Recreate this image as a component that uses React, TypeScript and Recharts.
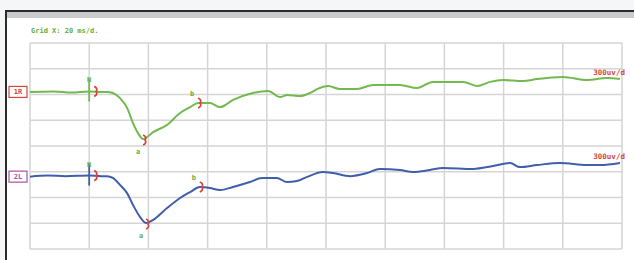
// NCS-style trace: two recordings (1R / 2L) on a 20 ms/d by 300 uV/d grid
import { LineChart, Line, XAxis, YAxis, CartesianGrid, ReferenceDot } from 'recharts';

const timeTicks = [0, 20, 40, 60, 80, 100, 120, 140, 160, 180, 200];
const divTicks = [0, 1, 2, 3, 4, 5, 6, 7, 8];

// t in ms, v in grid divisions (300 uV/d), counted from the bottom line
const trace1R = [
  { t: 0, v: 6.1 }, { t: 8, v: 6.12 }, { t: 14, v: 6.08 }, { t: 20, v: 6.12 },
  { t: 24, v: 6.1 }, { t: 26, v: 6.1 }, { t: 28.0, v: 6.06 }, { t: 30.4, v: 5.86 },
  { t: 32.8, v: 5.48 }, { t: 34.8, v: 4.89 }, { t: 36.5, v: 4.5 }, { t: 38.2, v: 4.27 },
  { t: 41.6, v: 4.54 }, { t: 46.3, v: 4.82 },
  { t: 50.7, v: 5.28 }, { t: 54.1, v: 5.51 }, { t: 56.8, v: 5.67 }, { t: 60.8, v: 5.67 },
  { t: 64.2, v: 5.51 }, { t: 68.6, v: 5.79 }, { t: 75.3, v: 6.06 }, { t: 80.4, v: 6.14 },
  { t: 84.5, v: 5.9 }, { t: 86.8, v: 5.98 }, { t: 91.2, v: 5.94 }, { t: 94.6, v: 6.06 },
  { t: 97.0, v: 6.21 }, { t: 100.7, v: 6.33 }, { t: 104.7, v: 6.21 }, { t: 110.5, v: 6.21 },
  { t: 115.9, v: 6.37 }, { t: 125.0, v: 6.37 }, { t: 130.7, v: 6.25 }, { t: 136.1, v: 6.49 },
  { t: 140.9, v: 6.49 }, { t: 146.3, v: 6.49 }, { t: 151.0, v: 6.33 }, { t: 155.4, v: 6.49 },
  { t: 159.8, v: 6.56 }, { t: 166.6, v: 6.52 }, { t: 171.3, v: 6.6 }, { t: 180.1, v: 6.68 },
  { t: 188.2, v: 6.56 }, { t: 194.9, v: 6.64 }, { t: 199.3, v: 6.6 },
];

const trace2L = [
  { t: 0, v: 2.81 }, { t: 6, v: 2.85 }, { t: 12, v: 2.83 }, { t: 20, v: 2.85 },
  { t: 24, v: 2.83 }, { t: 26, v: 2.83 }, { t: 28.0, v: 2.76 }, { t: 30.4, v: 2.49 },
  { t: 32.8, v: 2.17 }, { t: 34.8, v: 1.71 }, { t: 37.2, v: 1.24 }, { t: 39.2, v: 1.01 },
  { t: 41.6, v: 1.13 }, { t: 46.3, v: 1.59 },
  { t: 50.7, v: 1.98 }, { t: 54.1, v: 2.21 }, { t: 57.4, v: 2.41 }, { t: 60.8, v: 2.37 },
  { t: 64.2, v: 2.29 }, { t: 68.6, v: 2.41 }, { t: 74.3, v: 2.6 }, { t: 78.4, v: 2.76 },
  { t: 83.4, v: 2.76 }, { t: 86.8, v: 2.6 }, { t: 90.2, v: 2.64 }, { t: 93.6, v: 2.8 },
  { t: 99.0, v: 2.99 }, { t: 102.4, v: 2.95 }, { t: 108.1, v: 2.83 }, { t: 113.9, v: 2.95 },
  { t: 118.2, v: 3.11 }, { t: 125.0, v: 3.07 }, { t: 129.4, v: 2.99 }, { t: 135.1, v: 3.07 },
  { t: 139.5, v: 3.15 }, { t: 149.7, v: 3.11 }, { t: 156.4, v: 3.22 }, { t: 162.2, v: 3.34 },
  { t: 165.5, v: 3.18 }, { t: 171.3, v: 3.26 }, { t: 179.1, v: 3.34 }, { t: 188.2, v: 3.26 },
  { t: 192.6, v: 3.26 }, { t: 199.3, v: 3.34 },
];

const markerLabels = ['N', 'a', 'b'];
const markers1R = [20, 38.2, 56.8];
const markers2L = [20, 39.2, 57.4];

const GREEN = '#72b94f';
const BLUE = '#3f5eab';
const RED = '#d8453a';
const LABEL_GREEN = '#62b043';
const mono = '"DejaVu Sans Mono", monospace';

function nearest(data: { t: number; v: number }[], t: number) {
  return data.reduce((best, p) => (Math.abs(p.t - t) < Math.abs(best.t - t) ? p : best), data[0]);
}

// ticks are generated (so the grid gets its lines) but nothing is drawn
const noTick = () => <g />;

function Bracket({ x, y }: { x: number; y: number }) {
  return (
    <path
      d={`M${x - 1},${y - 5} Q${x + 3},${y - 3} ${x + 1},${y} Q${x + 3},${y + 3} ${x - 1},${y + 5}`}
      fill="none"
      stroke={RED}
      strokeWidth={1.8}
    />
  );
}

function markerShape(label: string, color: string) {
  return (props: any) => {
    const { cx, cy } = props;
    if (label === 'N') {
      return (
        <g>
          <line x1={cx} x2={cx} y1={cy - 12} y2={cy + 10} stroke={color} strokeWidth={1.8} />
          <text x={cx} y={cy - 9} textAnchor="middle" fontSize={7} fontWeight="bold" fontFamily={mono} fill={LABEL_GREEN}>N</text>
          <Bracket x={cx + 6} y={cy} />
        </g>
      );
    }
    if (label === 'a') {
      return (
        <g>
          <Bracket x={cx + 1} y={cy + 1} />
          <text x={cx - 5} y={cy + 15} textAnchor="middle" fontSize={7} fontWeight="bold" fontFamily={mono} fill={LABEL_GREEN}>a</text>
        </g>
      );
    }
    return (
      <g>
        <Bracket x={cx + 1} y={cy} />
        <text x={cx - 6} y={cy - 7} textAnchor="middle" fontSize={7} fontWeight="bold" fontFamily={mono} fill={LABEL_GREEN}>b</text>
      </g>
    );
  };
}

function channelTag(name: string, color: string) {
  return (props: any) => {
    const { cx, cy } = props;
    return (
      <g>
        <rect x={cx - 21} y={cy - 5.5} width={18} height={11} fill="#fff" stroke={color} strokeWidth={1.2} />
        <text x={cx - 12} y={cy + 2.5} textAnchor="middle" fontSize={7} fontWeight="bold" fontFamily={mono} fill={color}>{name}</text>
      </g>
    );
  };
}

function gainTag(props: any) {
  const { cx, cy } = props;
  return (
    <text x={cx + 5} y={cy - 4} textAnchor="end" fontSize={7.5} fontWeight="bold" fontFamily={mono} fill={RED}>300uv/d</text>
  );
}

export default function App() {
  const first1R = trace1R[0];
  const first2L = trace2L[0];
  const last1R = trace1R[trace1R.length - 1];
  const last2L = trace2L[trace2L.length - 1];

  return (
    <div style={{ position: 'relative', width: 634, height: 260, background: '#f4f6f8', overflow: 'hidden' }}>
      <style>{'body{margin:0}'}</style>
      <div
        style={{
          position: 'absolute', left: 5, top: 10, right: 0, bottom: 0,
          borderTop: '2px solid #2b2b2b', borderLeft: '2px solid #2b2b2b', background: '#fff',
        }}
      >
        <div style={{ height: 6, background: '#c9cacc' }} />
      </div>
      <div
        style={{
          position: 'absolute', left: 31, top: 27, fontFamily: mono, fontSize: 7,
          fontWeight: 'bold', color: LABEL_GREEN, whiteSpace: 'pre',
        }}
      >
        Grid X: 20 ms/d.
      </div>
      <div style={{ position: 'absolute', left: 0, top: 0 }}>
        <LineChart width={634} height={260} margin={{ top: 43, right: 12, bottom: 11, left: 30 }}>
          <CartesianGrid stroke="#d5d5d5" strokeWidth={1.5} />
          <XAxis type="number" dataKey="t" domain={[0, 200]} ticks={timeTicks} tick={noTick} axisLine={false} tickLine={false} height={0} interval={0} />
          <YAxis type="number" domain={[0, 8]} ticks={divTicks} tick={noTick} axisLine={false} tickLine={false} width={0} interval={0} />
          <Line data={trace1R} dataKey="v" type="monotone" stroke={GREEN} strokeWidth={2} dot={false} isAnimationActive={false} />
          <Line data={trace2L} dataKey="v" type="monotone" stroke={BLUE} strokeWidth={2} dot={false} isAnimationActive={false} />
          {markers1R.map((t, i) => {
            const p = nearest(trace1R, t);
            return <ReferenceDot key={`g${i}`} x={p.t} y={p.v} shape={markerShape(markerLabels[i], GREEN)} />;
          })}
          {markers2L.map((t, i) => {
            const p = nearest(trace2L, t);
            return <ReferenceDot key={`b${i}`} x={p.t} y={p.v} shape={markerShape(markerLabels[i], BLUE)} />;
          })}
          <ReferenceDot x={first1R.t} y={first1R.v} shape={channelTag('1R', RED)} />
          <ReferenceDot x={first2L.t} y={first2L.v} shape={channelTag('2L', '#a452a8')} />
          <ReferenceDot x={last1R.t} y={last1R.v} shape={gainTag} />
          <ReferenceDot x={last2L.t} y={last2L.v} shape={gainTag} />
        </LineChart>
      </div>
    </div>
  );
}
